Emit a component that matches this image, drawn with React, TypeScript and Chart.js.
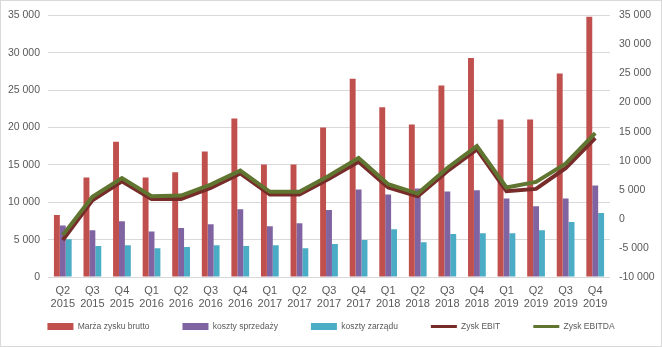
import React, { useEffect, useRef } from "react";
import { Chart, registerables } from "chart.js";

Chart.register(...registerables);

const quarters = ["Q2", "Q3", "Q4", "Q1", "Q2", "Q3", "Q4", "Q1", "Q2", "Q3", "Q4", "Q1", "Q2", "Q3", "Q4", "Q1", "Q2", "Q3", "Q4"];
const years = ["2015", "2015", "2015", "2016", "2016", "2016", "2016", "2017", "2017", "2017", "2017", "2018", "2018", "2018", "2018", "2019", "2019", "2019", "2019"];

const marzaZyskuBrutto = [8300, 13300, 18100, 13300, 14000, 16800, 21200, 15050, 15050, 20000, 26500, 22700, 20400, 25600, 29300, 21050, 21050, 27200, 34800];
const kosztySprzedazy = [6900, 6250, 7450, 6100, 6550, 7050, 9050, 6800, 7200, 8950, 11700, 11050, 11850, 11450, 11600, 10500, 9450, 10500, 12250];
const kosztyZarzadu = [5050, 4150, 4250, 3850, 4000, 4250, 4150, 4250, 3850, 4400, 4950, 6400, 4650, 5750, 5850, 5850, 6250, 7350, 8550];
const zyskEBIT = [-3650, 3200, 6450, 3400, 3400, 5300, 7800, 4200, 4200, 6900, 9800, 5400, 3900, 8200, 11950, 4750, 5150, 8700, 13900];
const zyskEBITDA = [-2800, 3800, 7000, 3900, 4000, 5900, 8300, 4650, 4650, 7400, 10450, 5950, 4350, 8750, 12500, 5400, 6350, 9500, 14750];

const leftTicks = { min: 0, max: 35000, step: 5000 };
const rightTicks = { min: -10000, max: 35000, step: 5000 };

const fmt = (v: number) => {
  const s = Math.abs(v).toString().replace(/\B(?=(\d{3})+(?!\d))/g, " ");
  return (v < 0 ? "-" : "") + s;
};

const FONT = "'Liberation Sans', Arial, sans-serif";
const TEXT = "#595959";
const LEGEND_PAD = 33;
const LEGEND_FONT = 8.5;
const LEGEND_CENTER_Y = 326.5;

export default function App() {
  const ref = useRef<HTMLCanvasElement | null>(null);

  useEffect(() => {
    document.body.style.margin = "0";
    if (!ref.current) return;
    const borderPlugin = {
      id: "outerBorder",
      afterLayout(chart: any) {
        const lg = chart.legend;
        if (lg) {
          lg.top = LEGEND_CENTER_Y - LEGEND_PAD - LEGEND_FONT / 2;
          lg.bottom = chart.height;
          lg.height = lg.bottom - lg.top;
        }
      },
      afterDraw(chart: any) {
        const ctx = chart.ctx;
        ctx.save();
        ctx.strokeStyle = "#d9d9d9";
        ctx.lineWidth = 1;
        ctx.strokeRect(0.5, 0.5, chart.width - 1, chart.height - 1);
        ctx.restore();
      },
    };
    const chart = new Chart(ref.current, {
      type: "bar",
      data: {
        labels: quarters.map((q, i) => [q, years[i]]),
        datasets: [
          { type: "bar", label: "Marża zysku brutto", data: marzaZyskuBrutto, backgroundColor: "#C0504D", yAxisID: "y", order: 3, pointStyle: "rect" } as any,
          { type: "bar", label: "koszty sprzedaży", data: kosztySprzedazy, backgroundColor: "#8064A2", yAxisID: "y", order: 3, pointStyle: "rect" } as any,
          { type: "bar", label: "koszty zarządu", data: kosztyZarzadu, backgroundColor: "#4BACC6", yAxisID: "y", order: 3, pointStyle: "rect" } as any,
          { type: "line", label: "Zysk EBIT", data: zyskEBIT, borderColor: "#772C2A", backgroundColor: "#772C2A", borderWidth: 4, pointRadius: 0, pointHoverRadius: 0, tension: 0, yAxisID: "y1", order: 2, pointStyle: "line" } as any,
          { type: "line", label: "Zysk EBITDA", data: zyskEBITDA, borderColor: "#5F7530", backgroundColor: "#5F7530", borderWidth: 4, pointRadius: 0, pointHoverRadius: 0, tension: 0, yAxisID: "y1", order: 1, pointStyle: "line" } as any,
        ],
      },
      options: {
        responsive: false,
        animation: false,
        layout: { padding: { top: 14, bottom: 0, left: 0, right: 0 } },
        plugins: {
          tooltip: { enabled: false },
          legend: {
            position: "bottom",
            align: "center",
            maxHeight: 20,
            labels: {
              usePointStyle: true,
              pointStyleWidth: 26,
              boxHeight: 7,
              padding: LEGEND_PAD,
              color: TEXT,
              font: { family: FONT, size: LEGEND_FONT },
              generateLabels: (c: any) => {
                const items = Chart.defaults.plugins.legend.labels.generateLabels(c);
                items.sort((a: any, b: any) => a.datasetIndex - b.datasetIndex);
                items.forEach((it: any) => {
                  if (it.pointStyle === "line") it.lineWidth = 3;
                });
                return items;
              },
            },
          } as any,
        },
        datasets: {
          bar: { barPercentage: 1, categoryPercentage: 0.6 },
        } as any,
        scales: {
          x: {
            grid: { display: false, drawTicks: false },
            border: { display: false },
            ticks: {
              autoSkip: false,
              maxRotation: 0,
              padding: 7,
              color: TEXT,
              font: { family: FONT, size: 11, lineHeight: "13px" as any },
            },
            afterFit: (s: any) => {
              s.height = 50;
            },
          },
          y: {
            position: "left",
            min: leftTicks.min,
            max: leftTicks.max,
            grid: { color: "#d9d9d9", drawTicks: false, lineWidth: 1 },
            border: { display: false },
            ticks: {
              stepSize: leftTicks.step,
              padding: 8,
              color: TEXT,
              font: { family: FONT, size: 10.5 },
              callback: (v: any) => fmt(Number(v)),
            },
            afterFit: (s: any) => {
              s.width = 48;
            },
          },
          y1: {
            position: "right",
            min: rightTicks.min,
            max: rightTicks.max,
            grid: { display: false, drawTicks: false },
            border: { display: false },
            ticks: {
              stepSize: rightTicks.step,
              padding: 9,
              color: TEXT,
              font: { family: FONT, size: 10.5 },
              callback: (v: any) => fmt(Number(v)),
            },
            afterFit: (s: any) => {
              s.width = 52;
            },
          },
        },
      },
      plugins: [borderPlugin],
    });
    return () => chart.destroy();
  }, []);

  return <canvas ref={ref} width={662} height={347} style={{ display: "block" }} />;
}
